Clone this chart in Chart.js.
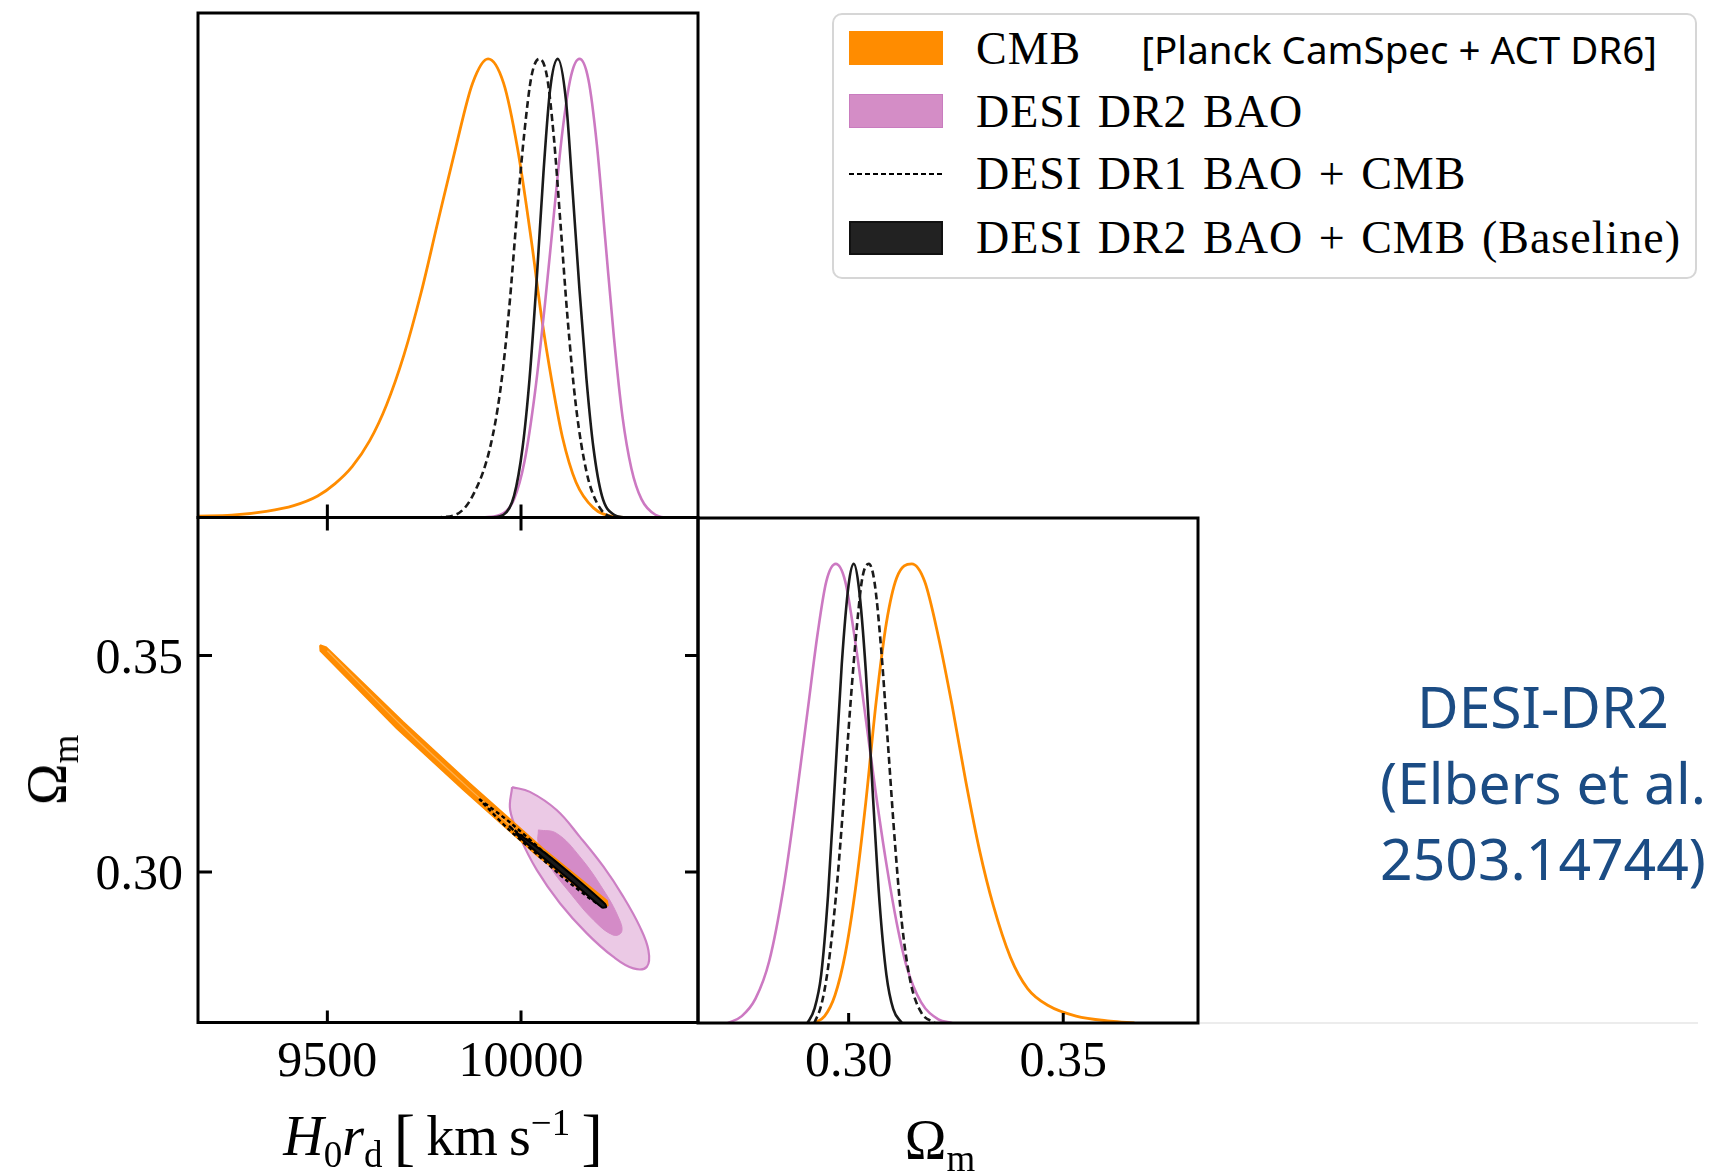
<!DOCTYPE html>
<html>
<head>
<meta charset="utf-8">
<script src="https://cdn.jsdelivr.net/npm/chart.js@4.4.1/dist/chart.umd.min.js"></script>
<style>
html, body { margin: 0; padding: 0; background: #fff; }
body { width: 1717px; height: 1174px; position: relative; overflow: hidden; }
canvas { position: absolute; left: 0; top: 0; }
.lbl { position: absolute; font-family: "Liberation Serif", serif; color: #000; white-space: nowrap; line-height: 1; }
.lbl sub, .lbl sup { font-size: 66%; line-height: 0; }
.lbl .br { font-size: 64px; position: relative; top: 3px; }
#legend { position: absolute; left: 832px; top: 13px; width: 861px; height: 262px; border: 2.5px solid #d6d6d6; border-radius: 10px; background: #fff; }
#legend .patch { position: absolute; left: 15px; width: 94px; height: 34px; box-sizing: border-box; }
#legend .txt { position: absolute; left: 142px; font-family: "Liberation Serif", serif; font-size: 46px; letter-spacing: 1px; word-spacing: 3px; line-height: 1; white-space: nowrap; transform: translateY(-50%); }
#legend .sans { font-family: "Noto Sans", sans-serif; font-size: 38.5px; letter-spacing: 0; word-spacing: 0; }
#note { position: absolute; left: 1343px; top: 668px; width: 400px; text-align: center; font-family: "Noto Sans", sans-serif; font-size: 57px; line-height: 76px; color: #1b4c84; white-space: nowrap; }
</style>
</head>
<body>
<canvas id="tl" width="1717" height="1174"></canvas>
<canvas id="bl" width="1717" height="1174"></canvas>
<canvas id="br" width="1717" height="1174"></canvas>

<div id="legend">
  <div class="patch" style="top:16px;background:#ff8c00;"></div>
  <div class="txt" style="top:34px;">CMB<span class="sans" style="margin-left:60px;">[Planck CamSpec + ACT DR6]</span></div>
  <div class="patch" style="top:79px;background:#d48dc6;border:1.5px solid #c97cbf;"></div>
  <div class="txt" style="top:97px;">DESI DR2 BAO</div>
  <svg style="position:absolute;left:15px;top:156px;" width="94" height="6"><line x1="0" y1="3" x2="94" y2="3" stroke="#000" stroke-width="2" stroke-dasharray="5,3"/></svg>
  <div class="txt" style="top:159px;">DESI DR1 BAO + CMB</div>
  <div class="patch" style="top:206px;background:#222;border:2px solid #111;"></div>
  <div class="txt" style="top:223px;">DESI DR2 BAO + CMB (Baseline)</div>
</div>

<div class="lbl" style="left:443px;top:1134px;font-size:56px;transform:translate(-50%,-50%);"><i>H</i><sub>0</sub><i>r</i><sub>d</sub>&#8201;<span class="br">[</span>&#8201;km&#8201;s<sup>&minus;1</sup>&#8201;<span class="br">]</span></div>
<div class="lbl" style="left:940px;top:1140px;font-size:56px;transform:translate(-50%,-50%);">&Omega;<sub>m</sub></div>
<div class="lbl" style="left:47px;top:770px;font-size:56px;transform:translate(-50%,-50%) rotate(-90deg);">&Omega;<sub>m</sub></div>

<div id="note">DESI-DR2<br>(Elbers et al.<br>2503.14744)</div>

<script>
// axis ticks
var hrdTicks = [9500, 10000];
var hrdTickLabels = ["9500", "10000"];
var omTicks = [0.30, 0.35];
var omTickLabels = ["0.30", "0.35"];
var hrdRange = [9166, 10457];
var omRangeX = [0.2649, 0.3814];
var omRangeY = [0.2652, 0.3819];

// 1D H0rd posteriors (normalised to peak)
var hrdCmbX = [9165, 9253, 9342, 9413, 9475, 9520, 9564, 9609, 9653, 9698, 9742, 9786, 9831, 9875, 9915, 9955, 9991, 10027, 10053, 10080, 10107, 10142, 10187, 10240, 10276];
var hrdCmbY = [0.003, 0.005, 0.0135, 0.026, 0.047, 0.074, 0.111, 0.167, 0.246, 0.355, 0.49, 0.647, 0.805, 0.947, 1.0, 0.947, 0.805, 0.602, 0.437, 0.295, 0.175, 0.077, 0.021, 0.002, 0];
var hrdBaoX = [9902, 9947, 9982, 10009, 10036, 10062, 10085, 10107, 10129, 10151, 10174, 10196, 10218, 10240, 10262, 10285, 10311, 10347, 10383, 10457];
var hrdBaoY = [0, 0.006, 0.04, 0.122, 0.272, 0.467, 0.662, 0.842, 0.962, 1, 0.955, 0.812, 0.602, 0.392, 0.22, 0.107, 0.04, 0.006, 0, 0];
var hrdDr1X = [9778, 9831, 9875, 9920, 9947, 9969, 9991, 10009, 10027, 10047, 10067, 10085, 10102, 10120, 10142, 10169, 10196, 10231, 10258];
var hrdDr1Y = [0, 0.006, 0.047, 0.152, 0.28, 0.452, 0.677, 0.842, 0.962, 1, 0.962, 0.827, 0.64, 0.437, 0.242, 0.1, 0.032, 0.002, 0];
var hrdDr2X = [9920, 9955, 9982, 10004, 10022, 10040, 10058, 10075, 10095, 10116, 10133, 10151, 10169, 10187, 10209, 10240, 10267];
var hrdDr2Y = [0, 0.006, 0.047, 0.152, 0.302, 0.512, 0.752, 0.932, 1, 0.91, 0.715, 0.497, 0.302, 0.152, 0.047, 0.006, 0];

// 1D Omega_m posteriors
var omCmbX = [0.2920, 0.2944, 0.2968, 0.2992, 0.3016, 0.3040, 0.3064, 0.3088, 0.3112, 0.3147, 0.3177, 0.3209, 0.3241, 0.3273, 0.3305, 0.3337, 0.3377, 0.3417, 0.3465, 0.3530, 0.3610, 0.3666];
var omCmbY = [0, 0.015, 0.06, 0.15, 0.293, 0.481, 0.699, 0.872, 0.97, 1, 0.962, 0.842, 0.692, 0.526, 0.376, 0.256, 0.143, 0.075, 0.038, 0.015, 0.004, 0];
var omBaoX = [0.2719, 0.2751, 0.2783, 0.2815, 0.2848, 0.2880, 0.2904, 0.2928, 0.2948, 0.2970, 0.2992, 0.3016, 0.3040, 0.3064, 0.3088, 0.3112, 0.3136, 0.3169, 0.3209, 0.3241];
var omBaoY = [0, 0.015, 0.053, 0.135, 0.293, 0.504, 0.677, 0.85, 0.962, 1, 0.962, 0.827, 0.662, 0.496, 0.346, 0.218, 0.12, 0.045, 0.008, 0];
var omDr1X = [0.2920, 0.2936, 0.2952, 0.2972, 0.2988, 0.3004, 0.3020, 0.3032, 0.3047, 0.3060, 0.3076, 0.3092, 0.3108, 0.3124, 0.3144, 0.3169, 0.3201];
var omDr1Y = [0, 0.038, 0.12, 0.293, 0.481, 0.692, 0.872, 0.97, 1, 0.962, 0.812, 0.602, 0.391, 0.218, 0.09, 0.023, 0];
var omDr2X = [0.2904, 0.2920, 0.2936, 0.2952, 0.2968, 0.2984, 0.3000, 0.3012, 0.3024, 0.3040, 0.3056, 0.3072, 0.3088, 0.3104, 0.3124];
var omDr2Y = [0, 0.03, 0.105, 0.278, 0.526, 0.782, 0.955, 1, 0.947, 0.767, 0.504, 0.263, 0.105, 0.03, 0];

// 2D contours (H0rd, Omega_m), traced round each closed curve
var baoOuterX = [9977, 10023, 10092, 10152, 10213, 10264, 10307, 10329, 10325, 10290, 10238, 10170, 10101, 10041, 9997, 9972, 9977];
var baoOuterY = [0.3196, 0.3185, 0.3143, 0.3081, 0.3012, 0.2943, 0.2873, 0.2819, 0.2781, 0.2777, 0.2804, 0.2858, 0.2927, 0.3004, 0.3081, 0.3143, 0.3196];
var baoInnerX = [10045, 10092, 10152, 10213, 10251, 10260, 10238, 10187, 10127, 10075, 10045, 10045];
var baoInnerY = [0.3097, 0.3089, 0.3035, 0.2958, 0.2896, 0.2862, 0.2854, 0.2889, 0.2951, 0.3012, 0.3066, 0.3097];
var cmbBandX = [9481, 9497, 9695, 9869, 10057, 10222, 10224, 10211, 10041, 9852, 9679, 9482, 9481];
var cmbBandY = [0.35240, 0.35190, 0.33470, 0.32035, 0.30535, 0.29335, 0.29225, 0.29190, 0.30385, 0.31890, 0.33320, 0.35110, 0.35240];
var cmbCoreX = [9500, 9690, 9862, 10050, 10200];
var cmbCoreY = [0.35110, 0.33400, 0.31960, 0.30460, 0.29320];
var dr1OuterX = [9892, 9974, 10052, 10129, 10199, 10119, 10041, 9964, 9892];
var dr1OuterY = [0.31685, 0.31126, 0.30511, 0.29901, 0.29258, 0.29794, 0.30409, 0.31019, 0.31685];
var dr1InnerX = [9969, 10049, 10126, 10046, 9969];
var dr1InnerY = [0.31061, 0.30506, 0.29859, 0.30425, 0.31061];
var dr2X = [9987, 10066, 10144, 10217, 10220, 10209, 10135, 10058, 9990, 9987];
var dr2Y = [0.30922, 0.30411, 0.29834, 0.29258, 0.29189, 0.29177, 0.29746, 0.30324, 0.30853, 0.30922];

var ORANGE = "#ff8c00";
var MAGENTA = "#cc79c2";
var BLACK = "#1a1a1a";

function pts(xs, ys) {
  return xs.map(function (x, i) { return {x: x, y: ys[i]}; });
}

function curve(xs, ys, color, width, dash) {
  return {
    data: pts(xs, ys), borderColor: color, borderWidth: width, borderDash: dash || [],
    fill: false, pointRadius: 0, cubicInterpolationMode: 'monotone'
  };
}

function shape(xs, ys, fillColor, lineColor, width, dash, tension, order) {
  return {
    data: pts(xs, ys), backgroundColor: fillColor || 'rgba(0,0,0,0)', borderColor: lineColor,
    borderWidth: width, borderDash: dash || [], fill: fillColor ? 'shape' : false,
    pointRadius: 0, tension: tension, order: order
  };
}

// frame, inward ticks and tick labels, placed with the chart's own scales
function framePlugin(cfg) {
  return {
    id: 'frame',
    afterDraw: function (chart) {
      var ctx = chart.ctx, a = chart.chartArea;
      var sx = chart.scales.x, sy = chart.scales.y;
      ctx.save();
      ctx.strokeStyle = '#000';
      ctx.lineWidth = 3;
      ctx.strokeRect(a.left, a.top, a.right - a.left, a.bottom - a.top);
      ctx.beginPath();
      if (cfg.xTicks) {
        cfg.xTicks.forEach(function (v) {
          var px = sx.getPixelForValue(v);
          if (cfg.bottomLen) { ctx.moveTo(px, a.bottom); ctx.lineTo(px, a.bottom - cfg.bottomLen); }
          if (cfg.topLen) { ctx.moveTo(px, a.top); ctx.lineTo(px, a.top + cfg.topLen); }
        });
      }
      if (cfg.yTicks) {
        cfg.yTicks.forEach(function (v) {
          var py = sy.getPixelForValue(v);
          if (cfg.leftLen) { ctx.moveTo(a.left, py); ctx.lineTo(a.left + cfg.leftLen, py); }
          if (cfg.rightLen) { ctx.moveTo(a.right, py); ctx.lineTo(a.right - cfg.rightLen, py); }
        });
      }
      ctx.stroke();
      ctx.fillStyle = '#000';
      ctx.font = '50px "Liberation Serif"';
      if (cfg.xLabels) {
        ctx.textAlign = 'center';
        ctx.textBaseline = 'alphabetic';
        cfg.xTicks.forEach(function (v, i) {
          ctx.fillText(cfg.xLabels[i], sx.getPixelForValue(v), 1076);
        });
      }
      if (cfg.yLabels) {
        ctx.textAlign = 'right';
        ctx.textBaseline = 'alphabetic';
        cfg.yTicks.forEach(function (v, i) {
          ctx.fillText(cfg.yLabels[i], 183, sy.getPixelForValue(v) + 17);
        });
      }
      if (cfg.tail) {
        ctx.strokeStyle = '#ececec';
        ctx.lineWidth = 2;
        ctx.beginPath();
        ctx.moveTo(a.right + 2, a.bottom);
        ctx.lineTo(1698, a.bottom);
        ctx.stroke();
      }
      ctx.restore();
    }
  };
}

function options(pad, xr, yr) {
  return {
    responsive: false, animation: false, devicePixelRatio: 1, events: [],
    layout: {padding: pad},
    plugins: {legend: {display: false}, tooltip: {enabled: false}},
    scales: {
      x: {type: 'linear', min: xr[0], max: xr[1], display: false},
      y: {type: 'linear', min: yr[0], max: yr[1], display: false}
    }
  };
}

// top left: H0rd marginal
new Chart(document.getElementById('tl'), {
  type: 'line',
  data: {datasets: [
    curve(hrdDr2X, hrdDr2Y, BLACK, 2.6),
    curve(hrdDr1X, hrdDr1Y, BLACK, 2.6, [7, 4]),
    curve(hrdBaoX, hrdBaoY, MAGENTA, 2.6),
    curve(hrdCmbX, hrdCmbY, ORANGE, 2.8)
  ]},
  options: options({left: 198, top: 13, right: 1019, bottom: 656.5}, hrdRange, [0, 1.1]),
  plugins: [framePlugin({xTicks: hrdTicks, bottomLen: 13})]
});

// bottom left: 2D contours
new Chart(document.getElementById('bl'), {
  type: 'line',
  data: {datasets: [
    shape(baoOuterX, baoOuterY, '#ebc9e5', '#cc7fc4', 2.2, null, 0.4, 7),
    shape(baoInnerX, baoInnerY, '#d48bc7', '#d48bc7', 1, null, 0.4, 6),
    shape(cmbBandX, cmbBandY, ORANGE, ORANGE, 1.8, null, 0, 5),
    {data: pts(cmbCoreX, cmbCoreY), borderColor: '#ffb04d', borderWidth: 1.2, fill: false, pointRadius: 0, tension: 0.3, order: 4},
    shape(dr1OuterX, dr1OuterY, null, '#000', 2.4, [4, 3], 0.3, 3),
    shape(dr1InnerX, dr1InnerY, null, '#000', 2.4, [4, 3], 0.3, 2),
    shape(dr2X, dr2Y, BLACK, '#000', 2, null, 0.2, 1)
  ]},
  options: options({left: 198, top: 517.5, right: 1019, bottom: 151.5}, hrdRange, omRangeY),
  plugins: [framePlugin({
    xTicks: hrdTicks, bottomLen: 12, topLen: 13, xLabels: hrdTickLabels,
    yTicks: omTicks, leftLen: 14, rightLen: 13, yLabels: omTickLabels
  })]
});

// bottom right: Omega_m marginal
new Chart(document.getElementById('br'), {
  type: 'line',
  data: {datasets: [
    curve(omDr2X, omDr2Y, BLACK, 2.6),
    curve(omDr1X, omDr1Y, BLACK, 2.6, [7, 4]),
    curve(omBaoX, omBaoY, MAGENTA, 2.6),
    curve(omCmbX, omCmbY, ORANGE, 2.8)
  ]},
  options: options({left: 698, top: 518, right: 519, bottom: 151}, omRangeX, [0, 1.1]),
  plugins: [framePlugin({xTicks: omTicks, bottomLen: 10, xLabels: omTickLabels, tail: true})]
});
</script>
</body>
</html>
